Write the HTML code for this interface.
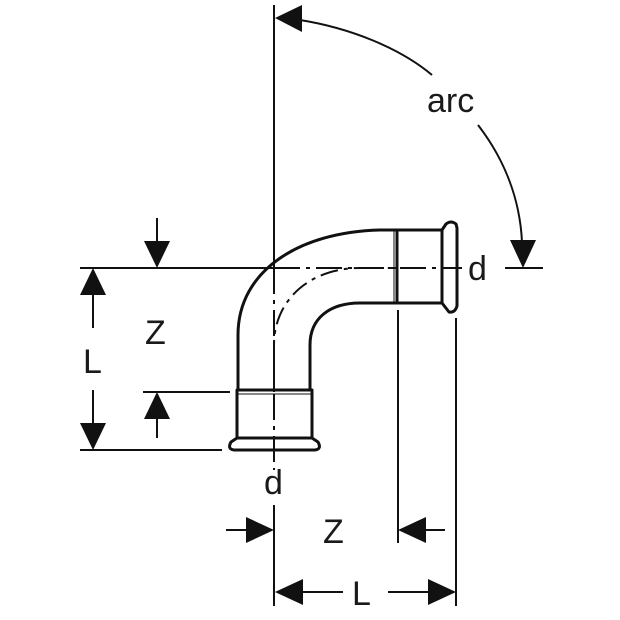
<!DOCTYPE html>
<html><head><style>html,body{margin:0;padding:0;background:#fff}svg{display:block}</style></head>
<body>
<svg width="620" height="620" viewBox="0 0 620 620" xmlns="http://www.w3.org/2000/svg">
<g stroke="#111" fill="none" stroke-width="2">
<line x1="274" y1="5" x2="274" y2="268"/>
<line x1="274" y1="268" x2="274" y2="470" stroke-dasharray="26,6,4,6"/>
<line x1="274" y1="505" x2="274" y2="606"/>
<line x1="80" y1="268" x2="274" y2="268"/>
<line x1="274" y1="268" x2="462" y2="268" stroke-dasharray="26,6,4,6"/>
<line x1="505" y1="268" x2="543" y2="268"/>
<path d="M274 392 L274 345 C274 300 310 268 360 268 L396 268" stroke-dasharray="18,6,4,6"/>
<line x1="80" y1="450" x2="222" y2="450"/>
<line x1="143" y1="392" x2="230" y2="392"/>
<line x1="157" y1="218" x2="157" y2="242"/>
<line x1="157" y1="418" x2="157" y2="438"/>
<line x1="93" y1="292" x2="93" y2="328"/>
<line x1="93" y1="390" x2="93" y2="424"/>
<line x1="398" y1="310" x2="398" y2="543"/>
<line x1="456" y1="318" x2="456" y2="606"/>
<line x1="226" y1="530" x2="250" y2="530"/>
<line x1="422" y1="530" x2="445" y2="530"/>
<line x1="300" y1="592" x2="343" y2="592"/>
<line x1="388" y1="592" x2="430" y2="592"/>
<path d="M300 20 C350 28 400 48 432 75"/>
<path d="M478 125 C505 160 520 200 522 242"/>
</g>
<g fill="#111">
<polygon points="275,18 302,5 302,32"/>
<polygon points="523,268 510,240 536,240"/>
<polygon points="157,268 144,241 170,241"/>
<polygon points="157,392 144,419 170,419"/>
<polygon points="93,268 80,295 106,295"/>
<polygon points="93,450 80,423 106,423"/>
<polygon points="274,530 246,517 246,543"/>
<polygon points="398,530 426,517 426,543"/>
<polygon points="275,592 303,579 303,605"/>
<polygon points="456,592 428,579 428,605"/>
</g>
<g stroke="#111" fill="none" stroke-width="3" stroke-linejoin="round">
<path d="M238 390 L238 335 C238 270 300 232 380 230 L397 230"/>
<path d="M310 390 L310 345 C310 318 330 303 360 303 L397 303"/>
<rect x="397" y="230" width="45" height="73"/>
<path d="M442 230 L446 224 Q451 220 456 224 L457 228 L457 306 Q455 313 449 312 L442 303"/>
<rect x="237" y="390" width="75" height="48"/>
<path d="M237 438 L231 442 Q227 449 234 450 L315 450 Q322 449 318 442 L312 438"/>
</g>
<line x1="394" y1="231" x2="394" y2="302" stroke="#111" stroke-width="1"/>
<line x1="238" y1="394" x2="312" y2="394" stroke="#111" stroke-width="1"/>
<g font-family="Liberation Sans, sans-serif" fill="#1a1a1a" font-size="34">
<text x="427" y="112">arc</text>
<text x="468" y="280">d</text>
<text x="264" y="494">d</text>
<text x="145" y="344">Z</text>
<text x="83" y="373">L</text>
<text x="323" y="543">Z</text>
<text x="352" y="605">L</text>
</g>
</svg>
</body></html>
